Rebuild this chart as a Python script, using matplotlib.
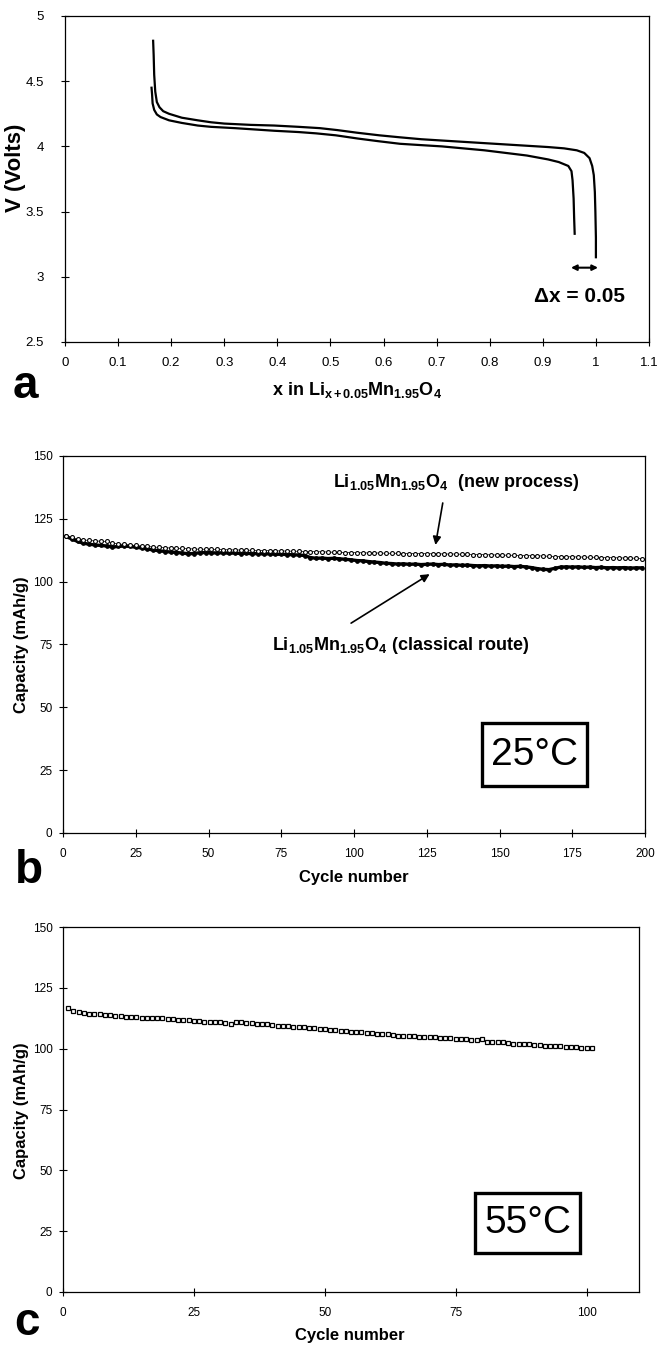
import matplotlib
matplotlib.use("Agg")
import matplotlib.pyplot as plt
from matplotlib.patches import Rectangle
import numpy as np

plt.rcParams['font.family'] = ['Liberation Sans', 'DejaVu Sans']
plt.rcParams['mathtext.fontset'] = 'custom'
plt.rcParams['mathtext.rm'] = 'Liberation Sans'
plt.rcParams['mathtext.bf'] = 'Liberation Sans:bold'
plt.rcParams['mathtext.it'] = 'Liberation Sans:italic'

# panel a : charge / discharge curves
charge_x = [0.166, 0.167, 0.168, 0.170, 0.173, 0.178, 0.185, 0.196, 0.22, 0.25, 0.275, 0.30,
            0.35, 0.394, 0.44, 0.48, 0.513, 0.55, 0.592, 0.63, 0.671, 0.71, 0.75, 0.79, 0.83,
            0.87, 0.91, 0.94, 0.964, 0.978, 0.988, 0.993, 0.996, 0.998, 0.999, 1.0, 1.0]
charge_v = [4.81, 4.70, 4.55, 4.42, 4.34, 4.30, 4.27, 4.25, 4.22, 4.20, 4.185, 4.175,
            4.165, 4.16, 4.15, 4.14, 4.125, 4.105, 4.085, 4.07, 4.055, 4.045, 4.035, 4.025, 4.015,
            4.005, 3.995, 3.985, 3.97, 3.95, 3.91, 3.85, 3.78, 3.65, 3.50, 3.30, 3.15]
disch_x = [0.163, 0.164, 0.165, 0.168, 0.173, 0.18, 0.196, 0.22, 0.25, 0.275, 0.32, 0.394,
           0.44, 0.473, 0.51, 0.552, 0.59, 0.631, 0.67, 0.71, 0.75, 0.79, 0.83, 0.87, 0.91,
           0.93, 0.948, 0.954, 0.956, 0.958, 0.959, 0.96]
disch_v = [4.45, 4.40, 4.33, 4.28, 4.245, 4.225, 4.20, 4.18, 4.16, 4.15, 4.14, 4.12,
           4.11, 4.10, 4.085, 4.06, 4.04, 4.02, 4.01, 4.00, 3.985, 3.97, 3.95, 3.93, 3.90,
           3.88, 3.85, 3.81, 3.74, 3.60, 3.45, 3.33]

# panel b : 25 C cycling (every second cycle)
cycles_b = np.arange(1, 200, 2)
new_process = [118.2, 117.6, 117.0, 116.6, 116.4, 116.2, 116.1, 116.0, 115.4, 115.0,
               114.8, 114.6, 114.4, 114.2, 114.0, 113.8, 113.6, 113.5, 113.4, 113.3,
               113.2, 113.1, 113.0, 112.9, 112.9, 112.8, 112.8, 112.7, 112.7, 112.6,
               112.6, 112.5, 112.5, 112.4, 112.4, 112.3, 112.3, 112.2, 112.2, 112.1,
               112.1, 112.0, 112.0, 111.9, 111.9, 111.8, 111.7, 111.7, 111.6, 111.6,
               111.5, 111.5, 111.4, 111.4, 111.4, 111.3, 111.3, 111.3, 111.2, 111.2,
               111.2, 111.2, 111.1, 111.1, 111.1, 111.0, 111.0, 111.0, 110.9, 110.9,
               110.8, 110.8, 110.7, 110.7, 110.6, 110.6, 110.5, 110.5, 110.4, 110.4,
               110.3, 110.3, 110.2, 110.1, 110.0, 110.0, 109.9, 109.9, 109.8, 109.8,
               109.7, 109.7, 109.6, 109.6, 109.5, 109.5, 109.4, 109.4, 109.3, 109.2]
classical = [118.0, 117.0, 116.0, 115.3, 114.9, 114.6, 114.4, 114.2, 113.8, 114.0,
             114.2, 114.0, 113.7, 113.4, 113.0, 112.6, 112.3, 112.0, 111.8, 111.6,
             111.4, 111.1, 111.2, 111.5, 111.6, 111.5, 111.4, 111.5, 111.3, 111.4,
             111.2, 111.3, 111.1, 111.2, 111.0, 111.1, 110.9, 110.9, 110.8, 110.7,
             110.6, 110.4, 109.6, 109.3, 109.4, 109.2, 109.3, 109.1, 108.9, 108.7,
             108.4, 108.3, 108.0, 107.8, 107.6, 107.3, 107.2, 107.0, 107.1, 106.9,
             107.0, 106.8, 106.9, 107.0, 106.8, 106.9, 106.6, 106.7, 106.5, 106.6,
             106.4, 106.3, 106.4, 106.2, 106.3, 106.1, 106.2, 106.0, 106.1, 105.9,
             105.6, 105.2, 104.9, 104.8, 105.3, 105.8, 105.9, 105.8, 105.9, 105.7,
             105.8, 105.6, 105.7, 105.5, 105.6, 105.5, 105.6, 105.4, 105.5, 105.5]

# panel c : 55 C cycling
cycles_c = np.arange(1, 102)
cap_55 = [116.8, 115.6, 115.0, 114.6, 114.4, 114.3, 114.1, 113.9, 113.8, 113.6,
          113.4, 113.2, 113.0, 112.9, 112.8, 112.6, 112.7, 112.5, 112.4, 112.2,
          112.1, 111.9, 111.8, 111.6, 111.3, 111.2, 111.1, 111.0, 110.9, 110.8,
          110.6, 110.3, 110.9, 110.8, 110.6, 110.4, 110.3, 110.2, 110.0, 109.7,
          109.5, 109.4, 109.2, 109.0, 108.9, 108.7, 108.5, 108.3, 108.1, 107.9,
          107.7, 107.6, 107.4, 107.2, 107.0, 106.8, 106.7, 106.5, 106.4, 106.2,
          106.0, 105.9, 105.6, 105.4, 105.3, 105.2, 105.1, 105.0, 104.8, 104.7,
          104.6, 104.5, 104.3, 104.2, 104.0, 103.9, 103.8, 103.6, 103.4, 104.0,
          102.8, 102.7, 102.6, 102.6, 102.2, 102.1, 102.0, 101.9, 101.8, 101.7,
          101.5, 101.3, 101.2, 101.0, 100.9, 100.8, 100.7, 100.5, 100.4, 100.3,
          100.2]

W, H = 658, 1345
fig = plt.figure(figsize=(W / 100, H / 100), dpi=100)


def box(l, t, r, b):
    return [l / W, 1 - b / H, (r - l) / W, (b - t) / H]


def style(ax, xpad, ypad, size):
    for s in ax.spines.values():
        s.set_linewidth(0.9)
    ax.tick_params(direction='inout', length=6, width=0.8, labelsize=size)
    ax.tick_params(axis='x', pad=xpad)
    ax.tick_params(axis='y', pad=ypad)


def fmt(v, pos):
    return ('%g' % v)


# ---------------- a ----------------
ax1 = fig.add_axes(box(65, 16, 649, 342))
ax1.plot(charge_x, charge_v, color='black', lw=1.6)
ax1.plot(disch_x, disch_v, color='black', lw=1.6)
ax1.set_xlim(0, 1.1)
ax1.set_ylim(2.5, 5)
ax1.set_xticks(np.round(np.arange(0, 1.11, 0.1), 1))
ax1.set_yticks([2.5, 3, 3.5, 4, 4.5, 5])
ax1.xaxis.set_major_formatter(plt.FuncFormatter(fmt))
ax1.yaxis.set_major_formatter(plt.FuncFormatter(fmt))
style(ax1, 7.5, 12, 9.5)
ax1.set_ylabel('V (Volts)', fontsize=16, fontweight='bold')
ax1.yaxis.set_label_coords(-0.066, 0.535)
ax1.set_xlabel(r'x in $\mathbf{Li_{x+0.05}Mn_{1.95}O_4}$', fontsize=13, fontweight='bold')
ax1.xaxis.set_label_coords(0.5, -0.118)
ax1.annotate('', xy=(0.953, 3.07), xytext=(1.004, 3.07),
             arrowprops=dict(arrowstyle='<|-|>', color='black', lw=1.5,
                             mutation_scale=8, shrinkA=0, shrinkB=0))
ax1.text(0.97, 2.85, 'Δx = 0.05', fontsize=15, fontweight='bold',
         ha='center', va='center')

# ---------------- b ----------------
ax2 = fig.add_axes(box(63, 456, 645, 833))
ax2.plot(cycles_b, classical, color='black', lw=2.4, marker='o', ms=2.4,
         mfc='black', mec='black')
ax2.plot(cycles_b, new_process, color='black', lw=0.5, marker='o', ms=2.8,
         mfc='white', mec='black', mew=0.8)
ax2.set_xlim(0, 200)
ax2.set_ylim(0, 150)
ax2.set_xticks(range(0, 201, 25))
ax2.set_yticks(range(0, 151, 25))
style(ax2, 7.5, 4.5, 8.5)
ax2.set_ylabel('Capacity (mAh/g)', fontsize=12, fontweight='bold')
ax2.yaxis.set_label_coords(-0.058, 0.5)
ax2.set_xlabel('Cycle number', fontsize=12, fontweight='bold')
ax2.xaxis.set_label_coords(0.5, -0.098)
ax2.text(135, 139.3, r'$\mathbf{Li_{1.05}Mn_{1.95}O_4}$  (new process)', fontsize=13,
         fontweight='bold', ha='center', va='center')
ax2.annotate('', xy=(128, 114.6), xytext=(130.5, 131.3),
             arrowprops=dict(arrowstyle='-|>', color='black', lw=1.2,
                             mutation_scale=12, shrinkA=0, shrinkB=0))
ax2.text(116, 74.8, r'$\mathbf{Li_{1.05}Mn_{1.95}O_4}$ (classical route)', fontsize=13,
         fontweight='bold', ha='center', va='center')
ax2.annotate('', xy=(126, 103), xytext=(99, 83.5),
             arrowprops=dict(arrowstyle='-|>', color='black', lw=1.2,
                             mutation_scale=12, shrinkA=0, shrinkB=0))
ax2.add_patch(Rectangle((143.9, 18.7), 36.1, 25.0, fill=False, lw=2.4, ec='black'))
ax2.text(162, 31.2, '25°C', fontsize=28, ha='center', va='center')

# ---------------- c ----------------
ax3 = fig.add_axes(box(63, 927, 639, 1292))
ax3.plot(cycles_c, cap_55, ls='none', marker='s', ms=3.2, mfc='white',
         mec='black', mew=0.9)
ax3.set_xlim(0, 110)
ax3.set_ylim(0, 150)
ax3.set_xticks(range(0, 101, 25))
ax3.set_yticks(range(0, 151, 25))
style(ax3, 7.5, 4.5, 8.5)
ax3.set_ylabel('Capacity (mAh/g)', fontsize=12, fontweight='bold')
ax3.yaxis.set_label_coords(-0.059, 0.496)
ax3.set_xlabel('Cycle number', fontsize=12, fontweight='bold')
ax3.xaxis.set_label_coords(0.498, -0.099)
ax3.add_patch(Rectangle((78.7, 16.1), 20.0, 24.7, fill=False, lw=2.4, ec='black'))
ax3.text(88.7, 28.4, '55°C', fontsize=28, ha='center', va='center')

# panel letters
fig.text(25 / W, 1 - 398 / H, 'a', fontsize=33, fontweight='bold', ha='center', va='baseline')
fig.text(29 / W, 1 - 883 / H, 'b', fontsize=33, fontweight='bold', ha='center', va='baseline')
fig.text(27 / W, 1 - 1335 / H, 'c', fontsize=33, fontweight='bold', ha='center', va='baseline')

fig.savefig('out.png', dpi=100)
